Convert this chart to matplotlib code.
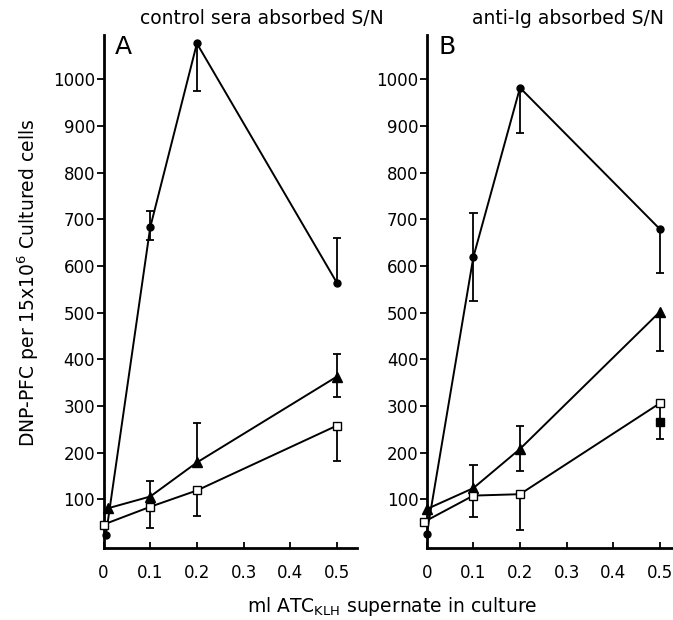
import numpy as np
import matplotlib
matplotlib.use("Agg")
import matplotlib.pyplot as plt

# Panel A - control sera absorbed S/N
a_circ_x = [0.005, 0.1, 0.2, 0.5]
a_circ_y = [24, 683, 1077, 564]
a_circ_lo = [0, 27, 102, 0]
a_circ_hi = [0, 35, 0, 95]

a_tri_x = [0.01, 0.1, 0.2, 0.5]
a_tri_y = [81, 106, 179, 363]
a_tri_lo = [0, 0, 0, 43]
a_tri_hi = [0, 34, 85, 48]

a_sq_x = [0.0, 0.1, 0.2, 0.5]
a_sq_y = [46, 84, 119, 258]
a_sq_lo = [0, 46, 55, 76]
a_sq_hi = [0, 0, 0, 0]

# Panel B - anti-Ig absorbed S/N
b_circ_x = [0.0, 0.1, 0.2, 0.5]
b_circ_y = [25, 619, 982, 679]
b_circ_lo = [0, 94, 98, 93]
b_circ_hi = [0, 94, 0, 0]

b_tri_x = [0.0, 0.1, 0.2, 0.5]
b_tri_y = [79, 124, 208, 502]
b_tri_lo = [0, 0, 47, 84]
b_tri_hi = [0, 49, 50, 0]

b_sq_x = [-0.005, 0.1, 0.2, 0.5]
b_sq_y = [52, 108, 111, 306]
b_sq_lo = [0, 45, 77, 76]
b_sq_hi = [0, 0, 0, 0]

b_fsq_x = [0.5]
b_fsq_y = [266]
b_fsq_lo = [0]
b_fsq_hi = [0]

x_ticks = [0, 0.1, 0.2, 0.3, 0.4, 0.5]
x_ticklabels = ["0", "0.1", "0.2", "0.3", "0.4", "0.5"]
y_ticks = [100, 200, 300, 400, 500, 600, 700, 800, 900, 1000]

plt.rcParams['font.family'] = ['DejaVu Sans']

fig = plt.figure(figsize=(6.73, 6.2), dpi=100)
axA = fig.add_axes([0.1539, 0.1156, 0.3765, 0.8279])
axB = fig.add_axes([0.634, 0.1156, 0.366, 0.8279])

CAP = 0.009  # half width of the error bar caps, in x units


def one_sided(ax, x, y, d, sign):
    # draw only the bars that have a length, cap at the far end
    x = np.asarray(x, float)
    y = np.asarray(y, float)
    d = np.asarray(d, float)
    m = d > 0
    if not m.any():
        return
    end = y[m] + sign * d[m]
    ax.vlines(x[m], y[m], end, color='black', lw=1.3, zorder=2, clip_on=False)
    ax.hlines(end, x[m] - CAP, x[m] + CAP, color='black', lw=1.3, zorder=2, clip_on=False)


def series(ax, x, y, lo, hi, marker, face, ms, line=True):
    if line:
        ax.plot(x, y, color='black', lw=1.4, zorder=2, clip_on=False)
    one_sided(ax, x, y, lo, -1)
    one_sided(ax, x, y, hi, 1)
    ax.plot(x, y, linestyle='none', marker=marker, ms=ms, mfc=face,
            mec='black', mew=1.0, zorder=3, clip_on=False)


series(axA, a_circ_x, a_circ_y, a_circ_lo, a_circ_hi, 'o', 'black', 5)
series(axA, a_tri_x, a_tri_y, a_tri_lo, a_tri_hi, '^', 'black', 7)
series(axA, a_sq_x, a_sq_y, a_sq_lo, a_sq_hi, 's', 'white', 6)

series(axB, b_circ_x, b_circ_y, b_circ_lo, b_circ_hi, 'o', 'black', 5)
series(axB, b_tri_x, b_tri_y, b_tri_lo, b_tri_hi, '^', 'black', 7)
series(axB, b_sq_x, b_sq_y, b_sq_lo, b_sq_hi, 's', 'white', 6)
series(axB, b_fsq_x, b_fsq_y, b_fsq_lo, b_fsq_hi, 's', 'black', 6, line=False)

for ax, xmax, letter in [(axA, 0.543, "A"), (axB, 0.528, "B")]:
    ax.set_xlim(0, xmax)
    ax.set_ylim(-5, 1095)
    ax.spines['top'].set_visible(False)
    ax.spines['right'].set_visible(False)
    ax.spines['left'].set_linewidth(2.0)
    ax.spines['bottom'].set_linewidth(2.0)
    ax.set_xticks(x_ticks)
    ax.set_xticklabels(x_ticklabels)
    ax.set_yticks(y_ticks)
    ax.tick_params(axis='y', direction='out', length=5, width=1.3, labelsize=12, pad=1)
    ax.tick_params(axis='x', direction='in', length=4, width=1.3, labelsize=12, pad=11)
    ax.text(0.025, 1070, letter, fontsize=18, ha='left', va='center')

fig.text(262 / 673, 1 - 19 / 620, "control sera absorbed S/N", ha='center', va='center', fontsize=13.5)
fig.text(568 / 673, 1 - 19 / 620, "anti-Ig absorbed S/N", ha='center', va='center', fontsize=13.5)
fig.text(28 / 673, 1 - 283 / 620, "DNP-PFC per 15x10$^6$ Cultured cells", rotation=90,
         ha='center', va='center', fontsize=13.5)
fig.text(392 / 673, 1 - 607 / 620, "ml ATC$_{\\mathregular{KLH}}$ supernate in culture",
         ha='center', va='center', fontsize=13.5)

fig.savefig("out.png", dpi=100)
